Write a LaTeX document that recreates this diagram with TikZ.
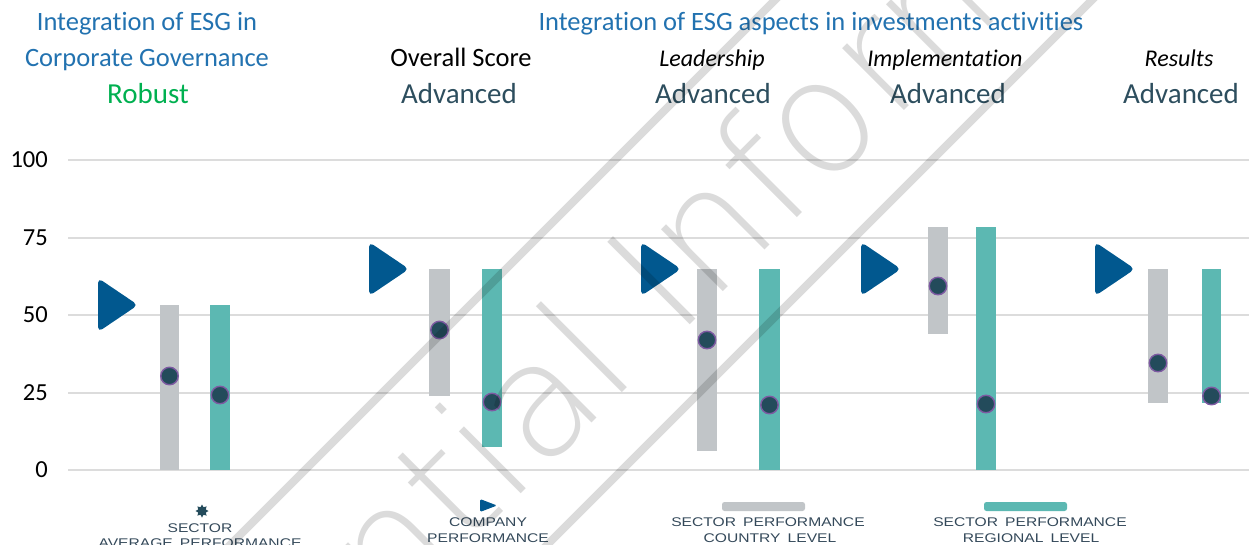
\documentclass[tikz,border=0pt]{standalone}
\usepackage{fontspec}
\setmainfont{Carlito}[Ligatures={NoCommon}]
\newfontfamily\legfont{Liberation Sans}
\IfFontExistsTF{DejaVu Sans ExtraLight}{\newfontfamily\wmfont{DejaVu Sans ExtraLight}}{\newfontfamily\wmfont{DejaVu Sans}}
\usetikzlibrary{shapes.geometric}
\definecolor{ttlblue}{HTML}{2272B0}
\definecolor{robgreen}{HTML}{00B050}
\definecolor{advc}{HTML}{2D4E5E}
\definecolor{gridc}{HTML}{DCDCDC}
\definecolor{barg}{HTML}{C1C5C8}
\definecolor{bart}{HTML}{5CB8B2}
\definecolor{dotc}{HTML}{234B5B}
\definecolor{dotring}{HTML}{7E5AA2}
\definecolor{triblue}{HTML}{01588F}
\definecolor{legc}{HTML}{34495A}
\tikzset{
  ttl/.style={font=\fontsize{26.5}{30}\selectfont, text=ttlblue, inner sep=0, anchor=base},
  subttl/.style={font=\fontsize{24}{28}\selectfont\itshape, text=black, inner sep=0, anchor=base},
  lvl/.style={font=\fontsize{29}{33}\selectfont, text=advc, inner sep=0, anchor=base},
  ylab/.style={font=\fontsize{24.5}{28}\selectfont, text=black, inner sep=0, anchor=east},
  gridln/.style={draw=gridc, line width=2},
  gbar/.style={fill=barg},
  tbar/.style={fill=bart},
  dotm/.style={circle, fill=dotc, draw=dotring, line width=1.4, minimum size=17.5, inner sep=0},
  cotri/.style={fill=triblue, rounded corners=5},
  legtxt/.style={font=\legfont\fontsize{12.6}{14}\selectfont, text=legc, inner sep=0, anchor=base},
}
\newcommand\lx[1]{\scalebox{1.24}[1]{#1}}
\begin{document}
\begin{tikzpicture}[x=1pt,y=-1pt]
\clip (0,0) rectangle (1249,544);
\useasboundingbox (0,0) rectangle (1249,544);

% titles
\node[ttl] (t1a) at (147,30) {Integration of ESG in};
\node[ttl] (t1b) at (147,66) {Corporate Governance};
\node[lvl, text=robgreen] (t1c) at (148,103) {Robust};
\node[ttl] (t2) at (811,30) {Integration of ESG aspects in investments activities};
\node[font=\fontsize{26.5}{30}\selectfont, inner sep=0, anchor=base] (s1) at (461,66) {Overall Score};
\node[subttl] (s2) at (712,66) {Leadership};
\node[subttl] (s3) at (945,66) {Implementation};
\node[subttl] (s4) at (1179,66) {Results};
\node[lvl] (a1) at (459,103) {Advanced};
\node[lvl] (a2) at (713,103) {Advanced};
\node[lvl] (a3) at (948,103) {Advanced};
\node[lvl] (a4) at (1181,103) {Advanced};

% grid and y labels
\foreach \v/\yy in {100/160,75/238,50/315,25/393,0/470}{
  \draw[gridln] (68,\yy) -- (1249,\yy);
  \node[ylab] (y\v) at (48,\yy) {\v};
}

% group 1
\fill[cotri] (98,278) -- (138,305) -- (98,332) -- cycle;
\fill[gbar] (160,305) rectangle (179,470);
\fill[tbar] (210,305) rectangle (230,470);
\node[dotm] (d1g) at (169.5,376) {};
\node[dotm] (d1t) at (220,395) {};

% group 2
\fill[cotri] (369,242) -- (409,269) -- (369,296) -- cycle;
\fill[gbar] (429,269) rectangle (450,396);
\fill[tbar] (482,269) rectangle (502,447);
\node[dotm] (d2g) at (439.5,330) {};
\node[dotm] (d2t) at (492,402) {};

% group 3
\fill[cotri] (641,242) -- (681,269) -- (641,296) -- cycle;
\fill[gbar] (697,269) rectangle (717,451);
\fill[tbar] (759,269) rectangle (780,470);
\node[dotm] (d3g) at (707,340) {};
\node[dotm] (d3t) at (769.5,405) {};

% group 4
\fill[cotri] (861,242) -- (901,269) -- (861,296) -- cycle;
\fill[gbar] (928,227) rectangle (948,334);
\fill[tbar] (976,227) rectangle (996,470);
\node[dotm] (d4g) at (938,286) {};
\node[dotm] (d4t) at (986,404) {};

% group 5
\fill[cotri] (1095,242) -- (1135,269) -- (1095,296) -- cycle;
\fill[gbar] (1148,269) rectangle (1168,403);
\fill[tbar] (1202,269) rectangle (1221,403);
\node[dotm] (d5g) at (1158,363) {};
\node[dotm] (d5t) at (1211.5,396) {};

% legend
\node[star, star points=8, star point ratio=1.6, fill=dotc, minimum size=13, inner sep=0] (lstar) at (202,511) {};
\node[legtxt] (ls1) at (200,532) {\lx{SECTOR}};
\node[legtxt] (ls2) at (200,547) {\lx{AVERAGE\hspace{.45em}PERFORMANCE}};
\fill[triblue, rounded corners=1.5] (480,499) -- (497,505.5) -- (480,512) -- cycle;
\node[legtxt] (lc1) at (488,526.5) {\lx{COMPANY}};
\node[legtxt] (lc2) at (488,542.5) {\lx{PERFORMANCE}};
\fill[barg, rounded corners=2.5] (722,502) rectangle (805,511);
\node[legtxt] (lg1) at (768,526.5) {\lx{SECTOR\hspace{.45em}PERFORMANCE}};
\node[legtxt] (lg2) at (770,542.5) {\lx{COUNTRY\hspace{.45em}LEVEL}};
\fill[bart, rounded corners=2.5] (984,502) rectangle (1067,511);
\node[legtxt] (lt1) at (1030,526.5) {\lx{SECTOR\hspace{.45em}PERFORMANCE}};
\node[legtxt] (lt2) at (1031,542.5) {\lx{REGIONAL\hspace{.45em}LEVEL}};

% watermark
\begin{scope}[opacity=0.14]
\draw[line width=8] (-100,875) -- (875,-100);
\draw[line width=8] (-100,1192) -- (1192,-100);
\node[font=\wmfont\fontsize{160}{165}\selectfont, rotate=45, anchor=base west, inner sep=0] (wm) at (-40,1055) {Confidential Information};
\end{scope}
\end{tikzpicture}
\end{document}
